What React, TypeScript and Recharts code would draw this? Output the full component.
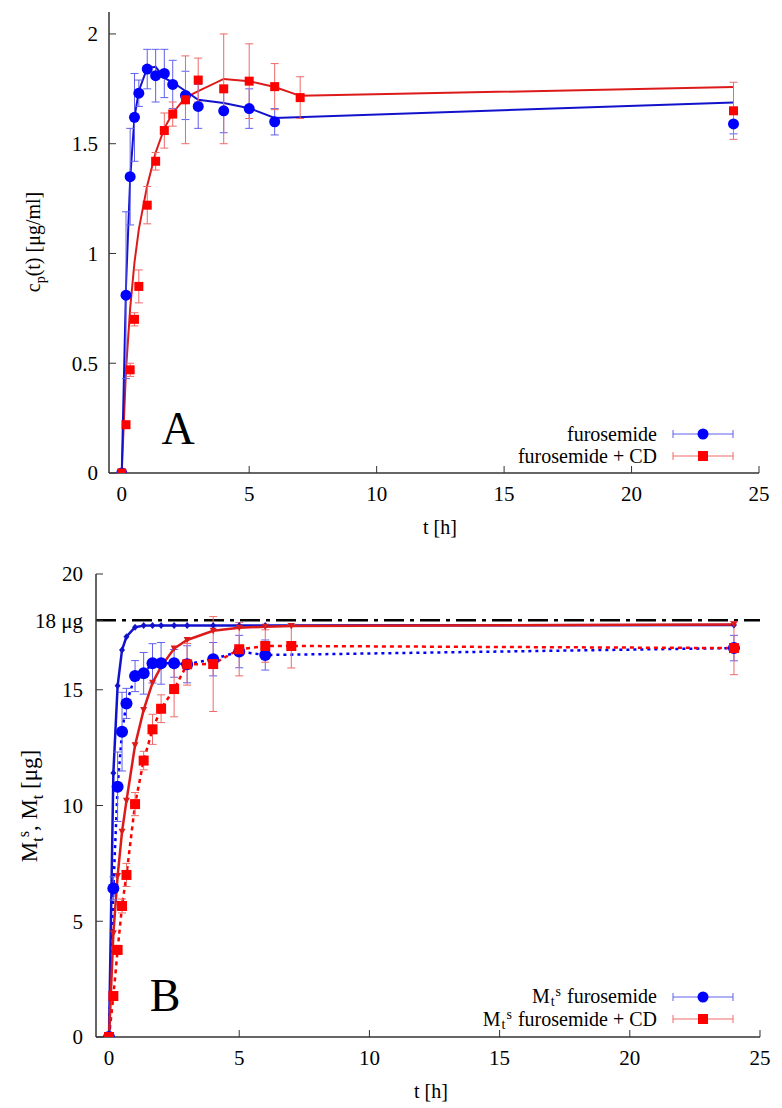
import React from 'react';
import { ComposedChart, Line, Scatter, XAxis, YAxis, ErrorBar, ReferenceLine } from 'recharts';

const SERIF = '"Liberation Serif", "Times New Roman", serif';

// sampling times [h]
const T_BLUE = [0, 0.167, 0.33, 0.5, 0.67, 1, 1.33, 1.67, 2, 2.5, 3, 4, 5, 6, 24];
const T_RED = [0, 0.167, 0.33, 0.5, 0.67, 1, 1.33, 1.67, 2, 2.5, 3, 4, 5, 6, 7, 24];

// panel A: c_p(t) [ug/ml]
const CP_BLUE = [0, 0.81, 1.35, 1.62, 1.73, 1.84, 1.81, 1.82, 1.77, 1.72, 1.67, 1.65, 1.66, 1.6, 1.59];
const CP_BLUE_ERR = [0, 0.38, 0.22, 0.2, 0.06, 0.09, 0.12, 0.11, 0.11, 0.11, 0.1, 0.1, 0.09, 0.06, 0.045];
const CP_BLUE_FIT = [0, 0.85, 1.34, 1.62, 1.74, 1.845, 1.85, 1.8, 1.78, 1.74, 1.7, 1.685, 1.662, 1.617, 1.688];
const CP_RED = [0, 0.22, 0.47, 0.7, 0.85, 1.22, 1.42, 1.56, 1.635, 1.7, 1.79, 1.75, 1.785, 1.76, 1.71, 1.65];
const CP_RED_ERR = [0, 0.01, 0.03, 0.03, 0.075, 0.085, 0.04, 0.08, 0.055, 0.2, 0.1, 0.25, 0.17, 0.105, 0.095, 0.13];
const CP_RED_FIT = [0, 0.47, 0.75, 0.96, 1.11, 1.31, 1.46, 1.57, 1.64, 1.71, 1.74, 1.795, 1.785, 1.758, 1.718, 1.758];

// panel B: M_t^s, M_t [ug]
const M_BLUE = [0, 6.42, 10.81, 13.19, 14.41, 15.59, 15.71, 16.14, 16.14, 16.14, 16.1, 16.32, 16.65, 16.5, 16.8];
const M_BLUE_ERR = [0, 0.5, 1.5, 1.7, 0.65, 0.67, 0.9, 0.85, 0.9, 0.6, 0.8, 0.72, 0.7, 0.65, 0.55];
const M_BLUE_FIT = [0, 11.4, 15.17, 16.72, 17.29, 17.7, 17.77, 17.78, 17.78, 17.78, 17.78, 17.78, 17.78, 17.78, 17.8];
const M_RED = [0, 1.77, 3.76, 5.66, 7.0, 10.06, 11.94, 13.29, 14.18, 15.03, 16.1, 16.11, 16.75, 16.89, 16.89, 16.8];
const M_RED_ERR = [0, 0.1, 0.2, 0.3, 0.5, 0.5, 0.4, 0.65, 0.6, 1.2, 0.9, 2.05, 1.15, 0.7, 0.95, 1.15];
const M_RED_FIT = [0, 4.48, 6.95, 8.87, 10.2, 12.6, 14.13, 15.3, 16.0, 16.78, 17.15, 17.55, 17.68, 17.72, 17.75, 17.82];
const DOSE = 18;

const X_TICKS = [0, 5, 10, 15, 20, 25];
const YA_TICKS = [0, 0.5, 1, 1.5, 2];
const YB_TICKS = [0, 5, 10, 15, DOSE, 20];

const mk = (ts: number[], ys: number[], es?: number[]) =>
  ts.map((t, i) => ({ t, y: ys[i], e: es ? es[i] : 0 }));

const BLUE = '#0000ff';
const RED = '#ff0000';
const BLUE_LINE = '#1212cc';
const RED_LINE = '#dd1a1a';
const BLUE_BAR = '#6060ee';
const RED_BAR = '#ee6a6a';

const AX = { stroke: '#333', strokeWidth: 1.5 };
const TL = { stroke: '#333', strokeWidth: 1 };
const TICK = { fontSize: 21, fill: '#000', fontFamily: SERIF };

const circle = (color: string, r: number) => (p: any) => <circle cx={p.cx} cy={p.cy} r={r} fill={color} />;
const square = (color: string, s: number) => (p: any) => (
  <rect x={p.cx - s / 2} y={p.cy - s / 2} width={s} height={s} fill={color} />
);
const diamond = (color: string) => (p: any) => (
  <path key={p.index} d={`M${p.cx},${p.cy - 3.5}L${p.cx + 3},${p.cy}L${p.cx},${p.cy + 3.5}L${p.cx - 3},${p.cy}Z`} fill={color} />
);
const triDown = (color: string) => (p: any) => (
  <path key={p.index} d={`M${p.cx - 3.5},${p.cy - 3}L${p.cx + 3.5},${p.cy - 3}L${p.cx},${p.cy + 3.5}Z`} fill={color} />
);

function PanelA() {
  return (
    <ComposedChart width={782} height={540} margin={{ top: 12, right: 23, bottom: 0, left: 0 }}>
      <XAxis xAxisId="b" type="number" dataKey="t" domain={[-0.5, 25]} ticks={X_TICKS} allowDataOverflow height={67}
        tickSize={-7} tickMargin={20} axisLine={AX} tickLine={TL} tick={TICK} interval={0} />
      <XAxis xAxisId="t" orientation="top" type="number" dataKey="t" domain={[-0.5, 25]} ticks={X_TICKS} allowDataOverflow
        height={0} tickSize={-7} tick={false} axisLine={AX} tickLine={TL} interval={0} />
      <YAxis yAxisId="l" type="number" domain={[0, 2.1]} ticks={YA_TICKS} allowDataOverflow width={109}
        tickSize={-7} tickMargin={18} axisLine={AX} tickLine={TL} tick={TICK} interval={0} />
      <YAxis yAxisId="r" orientation="right" type="number" domain={[0, 2.1]} ticks={YA_TICKS} allowDataOverflow width={0}
        tickSize={-7} tick={false} axisLine={AX} tickLine={TL} interval={0} />

      <Line xAxisId="b" yAxisId="l" data={mk(T_RED, CP_RED_FIT)} dataKey="y" type="linear" stroke={RED_LINE}
        strokeWidth={2} dot={false} isAnimationActive={false} />
      <Line xAxisId="b" yAxisId="l" data={mk(T_BLUE, CP_BLUE_FIT)} dataKey="y" type="linear" stroke={BLUE_LINE}
        strokeWidth={2} dot={false} isAnimationActive={false} />
      <Scatter xAxisId="b" yAxisId="l" data={mk(T_BLUE, CP_BLUE, CP_BLUE_ERR)} dataKey="y" shape={circle(BLUE, 5.5)}
        isAnimationActive={false}>
        <ErrorBar dataKey="e" direction="y" width={4} stroke={BLUE_BAR} strokeWidth={1} isAnimationActive={false} />
      </Scatter>
      <Scatter xAxisId="b" yAxisId="l" data={mk(T_RED, CP_RED, CP_RED_ERR)} dataKey="y" shape={square(RED, 9)}
        isAnimationActive={false}>
        <ErrorBar dataKey="e" direction="y" width={4} stroke={RED_BAR} strokeWidth={1} isAnimationActive={false} />
      </Scatter>
    </ComposedChart>
  );
}

function PanelB() {
  return (
    <ComposedChart width={782} height={568} margin={{ top: 34, right: 22, bottom: 0, left: 0 }}>
      <XAxis xAxisId="b" type="number" dataKey="t" domain={[-0.5, 25]} ticks={X_TICKS} allowDataOverflow height={71}
        tickSize={-7} tickMargin={20} axisLine={AX} tickLine={TL} tick={TICK} interval={0} />
      <XAxis xAxisId="t" orientation="top" type="number" dataKey="t" domain={[-0.5, 25]} ticks={X_TICKS} allowDataOverflow
        height={0} tickSize={-7} tick={false} axisLine={AX} tickLine={TL} interval={0} />
      <YAxis yAxisId="l" type="number" domain={[0, 20]} ticks={YB_TICKS} allowDataOverflow width={96}
        tickSize={-7} tickMargin={20} axisLine={AX} tickLine={TL} tick={TICK} interval={0}
        tickFormatter={(v: number) => (v === DOSE ? `${v} μg` : String(v))} />
      <YAxis yAxisId="r" orientation="right" type="number" domain={[0, 20]} ticks={[0, 5, 10, 15, 20]} allowDataOverflow width={0}
        tickSize={-7} tick={false} axisLine={AX} tickLine={TL} interval={0} />

      <ReferenceLine xAxisId="b" yAxisId="l" y={DOSE} stroke="#000" strokeWidth={2.5} strokeDasharray="20 6 4 6" />

      <Line xAxisId="b" yAxisId="l" data={mk(T_BLUE, M_BLUE)} dataKey="y" type="linear" stroke={BLUE}
        strokeWidth={2.5} strokeDasharray="3 4" dot={false} isAnimationActive={false} />
      <Line xAxisId="b" yAxisId="l" data={mk(T_RED, M_RED)} dataKey="y" type="linear" stroke={RED}
        strokeWidth={2.5} strokeDasharray="4 4" dot={false} isAnimationActive={false} />
      <Line xAxisId="b" yAxisId="l" data={mk(T_BLUE, M_BLUE_FIT)} dataKey="y" type="linear" stroke={BLUE_LINE}
        strokeWidth={2.5} dot={diamond(BLUE_LINE)} isAnimationActive={false} />
      <Line xAxisId="b" yAxisId="l" data={mk(T_RED, M_RED_FIT)} dataKey="y" type="linear" stroke={RED_LINE}
        strokeWidth={2.5} dot={triDown(RED_LINE)} isAnimationActive={false} />

      <Scatter xAxisId="b" yAxisId="l" data={mk(T_BLUE, M_BLUE, M_BLUE_ERR)} dataKey="y" shape={circle(BLUE, 6)}
        isAnimationActive={false}>
        <ErrorBar dataKey="e" direction="y" width={4} stroke={BLUE_BAR} strokeWidth={1} isAnimationActive={false} />
      </Scatter>
      <Scatter xAxisId="b" yAxisId="l" data={mk(T_RED, M_RED, M_RED_ERR)} dataKey="y" shape={square(RED, 10)}
        isAnimationActive={false}>
        <ErrorBar dataKey="e" direction="y" width={4} stroke={RED_BAR} strokeWidth={1} isAnimationActive={false} />
      </Scatter>
    </ComposedChart>
  );
}

function LegendRow({ y, label, color, bar, marker }: any) {
  return (
    <g>
      {label}
      <line x1={673} x2={733} y1={y} y2={y} stroke={bar} strokeWidth={1} />
      <line x1={673} x2={673} y1={y - 4} y2={y + 4} stroke={bar} strokeWidth={1} />
      <line x1={733} x2={733} y1={y - 4} y2={y + 4} stroke={bar} strokeWidth={1} />
      {marker === 'c' ? <circle cx={703} cy={y} r={5.5} fill={color} /> : <rect x={698} y={y - 5} width={10} height={10} fill={color} />}
    </g>
  );
}

// "M_t^s" written with a subscript and a superscript
const MtS = ({ size }: { size: number }) => (
  <>
    M<tspan fontSize={size} dx={1} dy={3}>t</tspan><tspan fontSize={size} dx={1} dy={-10}>s</tspan>
  </>
);

function Overlay() {
  const t = { fontFamily: SERIF, fill: '#000' };
  return (
    <svg width={782} height={1108} style={{ position: 'absolute', left: 0, top: 0, pointerEvents: 'none' }}>
      {/* axis titles */}
      <text {...t} fontSize={20} textAnchor="middle" transform="translate(40,242) rotate(-90)">
        c<tspan fontSize={14} dy={5}>p</tspan><tspan dy={-5}>(t) [μg/ml]</tspan>
      </text>
      <text {...t} fontSize={20} x={440} y={534} textAnchor="middle">t [h]</text>
      <text {...t} fontSize={23} textAnchor="middle" transform="translate(37,806) rotate(-90)">
        M<tspan fontSize={16} dy={6}>t</tspan><tspan fontSize={16} dy={-14}>s</tspan>
        <tspan dy={8}>, M</tspan><tspan fontSize={16} dy={6}>t</tspan><tspan dy={-6}> [μg]</tspan>
      </text>
      <text {...t} fontSize={20} x={431} y={1098} textAnchor="middle">t [h]</text>

      {/* panel letters */}
      <text {...t} fontSize={46} x={178} y={444} textAnchor="middle">A</text>
      <text {...t} fontSize={46} x={165} y={1011} textAnchor="middle">B</text>

      {/* legend A */}
      <LegendRow y={434} color={BLUE} bar={BLUE_BAR} marker="c"
        label={<text {...t} fontSize={20} x={657} y={441} textAnchor="end">furosemide</text>} />
      <LegendRow y={456} color={RED} bar={RED_BAR} marker="s"
        label={<text {...t} fontSize={20} x={657} y={463} textAnchor="end">furosemide + CD</text>} />

      {/* legend B */}
      <LegendRow y={997} color={BLUE} bar={BLUE_BAR} marker="c"
        label={<text {...t} fontSize={20} x={657} y={1003} textAnchor="end"><MtS size={14} /><tspan dx={1} dy={7}> furosemide</tspan></text>} />
      <LegendRow y={1019} color={RED} bar={RED_BAR} marker="s"
        label={<text {...t} fontSize={20} x={657} y={1026} textAnchor="end"><MtS size={14} /><tspan dx={1} dy={7}> furosemide + CD</tspan></text>} />
    </svg>
  );
}

export default function App() {
  return (
    <div style={{ position: 'absolute', left: 0, top: 0, width: 782, height: 1108, background: '#fff', fontFamily: SERIF }}>
      <div style={{ position: 'absolute', left: 0, top: 0 }}>
        <PanelA />
      </div>
      <div style={{ position: 'absolute', left: 0, top: 540 }}>
        <PanelB />
      </div>
      <Overlay />
    </div>
  );
}
